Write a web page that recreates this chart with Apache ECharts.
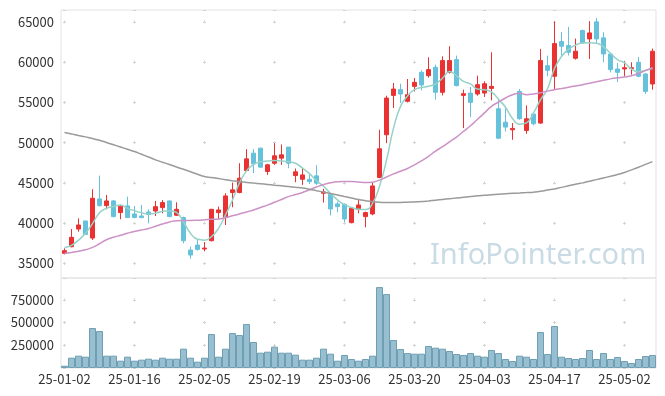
<!DOCTYPE html>
<html><head><meta charset="utf-8">
<script src="https://cdn.jsdelivr.net/npm/echarts@6/dist/echarts.min.js"></script>
<style>html,body{margin:0;padding:0;background:#fff}#c{width:665px;height:396px}</style>
</head><body><div id="c"></div>
<script>
const categories = ['25-01-02','25-01-03','25-01-06','25-01-07','25-01-08','25-01-09','25-01-10','25-01-13','25-01-14','25-01-15',
'25-01-16','25-01-17','25-01-20','25-01-21','25-01-22','25-01-23','25-01-24','25-01-31','25-02-03','25-02-04',
'25-02-05','25-02-06','25-02-07','25-02-10','25-02-11','25-02-12','25-02-13','25-02-14','25-02-17','25-02-18',
'25-02-19','25-02-20','25-02-21','25-02-24','25-02-25','25-02-26','25-02-27','25-02-28','25-03-04','25-03-05',
'25-03-06','25-03-07','25-03-10','25-03-11','25-03-12','25-03-13','25-03-14','25-03-17','25-03-18','25-03-19',
'25-03-20','25-03-21','25-03-24','25-03-25','25-03-26','25-03-27','25-03-28','25-03-31','25-04-01','25-04-02',
'25-04-03','25-04-04','25-04-07','25-04-08','25-04-09','25-04-10','25-04-11','25-04-14','25-04-15','25-04-16',
'25-04-17','25-04-18','25-04-21','25-04-22','25-04-23','25-04-24','25-04-25','25-04-28','25-04-29','25-04-30',
'25-05-02','25-05-07','25-05-08','25-05-09','25-05-12'];

const openP = [36260,37090,39280,40280,38160,43020,42190,42770,41320,42150,
41150,40900,41400,41520,41940,42770,40990,40700,36670,37290,
36800,37830,41320,40700,43810,43810,46540,48700,49320,46420,
47450,48080,49450,45920,45460,45460,45880,43720,43600,42400,
42350,40070,41730,40820,41150,45670,50980,55870,56580,55130,
56990,58730,58320,59360,56250,58730,60310,55870,56160,56040,
56160,56740,54210,52550,51600,56370,51520,53550,52430,59560,
58240,62550,62050,60480,63920,62880,65000,63010,61010,59150,
59150,59190,59980,58530,57280];
const closeP = [36590,38250,39780,38620,43100,42190,42770,40820,42110,40700,
40700,40700,41070,42060,42560,40820,41730,37830,36050,36750,
36920,41730,41650,43390,44140,45590,47990,47370,46960,47250,
48370,48490,47450,46380,46000,45170,44970,43890,41770,42060,
40530,41860,42270,41320,44630,49240,55540,56660,56040,55960,
57490,57160,59070,56250,60190,60190,57080,56080,55000,57200,
57320,56990,50560,51930,51770,52970,52970,52350,60190,58980,
62300,61970,61220,61350,62380,63630,62880,61010,59070,58730,
59310,59310,58240,56370,61350];
const lowP = [36130,37000,38950,38540,37920,42060,41730,40740,40490,40650,
40610,40610,39990,40900,41230,40740,40900,37500,35590,36590,
36510,37750,40490,39780,41980,43720,46460,46210,46920,46000,
47250,47250,46830,45090,44760,44880,44760,42560,40970,41360,
40110,39990,41230,39490,40990,45590,49940,54300,54920,55000,
56370,56490,58070,55330,55870,58570,56990,51810,53180,55830,
55670,55250,50440,51390,50360,52850,51100,52140,52350,58240,
56660,60720,60810,60310,62260,60390,62380,59980,58730,57530,
58240,58440,58110,56040,56580];
const highP = [36880,39280,40610,40280,44220,45920,43510,42890,42230,43310,
42150,42270,41730,42770,42890,42810,42600,40820,37090,38000,
37670,41770,42060,43720,45050,47450,49200,49200,49360,47370,
49940,49780,49450,46790,46790,46090,47210,44260,43720,42690,
42480,41940,43020,41440,45050,51600,55830,57410,57320,57900,
58030,58980,60600,59690,60720,61970,60810,56580,56910,58320,
57610,61220,55330,54300,52430,56660,54630,53680,61640,60810,
65040,63750,64370,62920,64040,65080,65490,63710,61140,59900,
60100,59980,60640,58650,61680];

const ma5 = [37000,37250,37900,38750,39950,41300,41850,42080,42250,41850,
41550,41300,41150,41230,41480,41560,41350,40150,38750,38000,
37900,38330,39370,41030,42890,45000,46500,47300,47620,47720,
47780,47720,47650,47450,46830,46150,45300,44600,43700,42900,
42300,41950,41730,41700,42450,44600,47800,51800,54500,55800,
56580,56850,57000,57300,58000,58850,58300,57600,57300,56650,
56580,56300,55400,54400,53000,52300,52450,53700,55300,56700,
59200,60700,61600,62100,62380,62400,62350,61900,61100,60300,
59900,59150,58800,59000,59200];
const ma20 = [36260,36380,36520,36700,37000,37450,37950,38250,38500,38750,
38980,39150,39350,39620,39900,40150,40320,40340,40340,40370,
40420,40480,40520,40700,40920,41150,41400,41650,41950,42250,
42600,42950,43300,43560,43820,44150,44500,44800,45020,45150,
45180,45180,45120,45050,45100,45350,45740,46120,46450,46800,
47250,47750,48300,48950,49500,50100,50700,51400,52100,52900,
53700,54500,55050,55550,55950,56150,55950,56050,56200,56400,
56570,56720,56880,57040,57200,57380,57560,57740,57920,58050,
58150,58300,58600,58950,59300];
const ma120 = [51270,51090,50900,50720,50530,50290,50030,49740,49460,49180,
48900,48560,48220,47870,47570,47280,46980,46690,46390,46090,
45800,45670,45540,45410,45280,45160,45070,44980,44900,44810,
44720,44640,44550,44460,44380,44220,44040,43870,43690,43500,
43310,43130,42940,42800,42680,42600,42560,42560,42580,42610,
42650,42690,42770,42860,42950,43040,43130,43220,43310,43400,
43480,43540,43600,43660,43710,43750,43800,43860,43960,44120,
44260,44450,44640,44830,45010,45200,45410,45620,45830,46050,
46300,46620,46950,47300,47650];

const volume = [25000,113500,135500,124500,439600,406600,135500,135500,80600,124500,
80600,91600,102600,91600,113500,102600,102600,212500,113500,69600,
113500,373600,124500,212500,384600,362600,483500,285700,168500,179500,
234400,168500,168500,146500,91600,91600,113500,212500,157500,80600,
142900,98900,80600,98900,135500,890100,813200,307700,208800,164800,
157500,157500,241800,223400,212500,186800,153800,142900,164800,135500,
124500,197800,164800,98900,76900,135500,124500,98900,395600,153800,
461500,124500,109900,98900,109900,197800,98900,164800,98900,120900,
76900,54900,98900,131900,142900];

const candles = categories.map((c, i) => [openP[i], closeP[i], lowP[i], highP[i]]);

const UP = '#ea3232', DOWN = '#66c1db';
const FONT = '"Noto Sans CJK KR", "Noto Sans", sans-serif';
const gridLine = '#d4d4d4';
const plain = v => String(v);

const chart = echarts.init(document.getElementById('c'), null, {renderer: 'canvas'});
chart.setOption({
  animation: false,
  backgroundColor: '#fff',
  textStyle: {fontFamily: FONT},
  grid: [
    {left: 61, right: 9, top: 10, height: 268, show: true, borderColor: '#e3e3e3', borderWidth: 1, backgroundColor: 'transparent'},
    {left: 61, right: 9, top: 278, height: 90, show: true, borderColor: '#e3e3e3', borderWidth: 1, backgroundColor: 'transparent'}
  ],
  xAxis: [
    {type: 'category', gridIndex: 0, data: categories, boundaryGap: true,
     axisLine: {show: false}, axisTick: {show: false}, axisLabel: {show: false},
     splitLine: {show: true, interval: 9, alignWithLabel: true,
       lineStyle: {color: gridLine, width: 1, type: [3, 37.277], dashOffset: 29.94}}},
    {type: 'category', gridIndex: 1, data: categories, boundaryGap: true,
     axisLine: {show: false}, axisTick: {show: false},
     axisLabel: {interval: 9, fontSize: 13, color: '#333', margin: 5, fontFamily: FONT},
     splitLine: {show: true, interval: 9, alignWithLabel: true,
       lineStyle: {color: gridLine, width: 1, type: [3, 19.727], dashOffset: 2.43}}}
  ],
  yAxis: [
    {type: 'value', gridIndex: 0, min: 33200, max: 66470, scale: true,
     axisLine: {show: false}, axisTick: {show: false},
     axisLabel: {fontSize: 13, color: '#333', margin: 7, showMinLabel: false, showMaxLabel: false, fontFamily: FONT, formatter: plain},
     splitLine: {show: true, lineStyle: {color: gridLine, width: 1, type: [3, 67], dashOffset: 68}}},
    {type: 'value', gridIndex: 1, min: 0, max: 990000, interval: 250000,
     axisLine: {show: false}, axisTick: {show: false},
     axisLabel: {fontSize: 13, color: '#333', margin: 7, showMinLabel: false, showMaxLabel: false, fontFamily: FONT, formatter: plain},
     splitLine: {show: true, lineStyle: {color: gridLine, width: 1, type: [3, 67], dashOffset: 68}}}
  ],
  graphic: [{
    type: 'text', left: 430, top: 241, silent: true, z: 0,
    style: {text: 'InfoPointer.com', font: '29px "Noto Sans", sans-serif', fill: '#c9dbe4'}
  }],
  series: [
    {type: 'candlestick', xAxisIndex: 0, yAxisIndex: 0, data: candles, barWidth: 5,
     itemStyle: {color: UP, color0: DOWN, borderColor: UP, borderColor0: DOWN, borderWidth: 1}},
    {type: 'line', xAxisIndex: 0, yAxisIndex: 0, data: ma5, smooth: true, symbol: 'none',
     lineStyle: {color: '#96d2c8', width: 1.5}},
    {type: 'line', xAxisIndex: 0, yAxisIndex: 0, data: ma20, smooth: true, symbol: 'none',
     lineStyle: {color: '#cc92c6', width: 1.5}},
    {type: 'line', xAxisIndex: 0, yAxisIndex: 0, data: ma120, smooth: true, symbol: 'none',
     lineStyle: {color: '#9a9a9a', width: 1.5}},
    {type: 'bar', xAxisIndex: 1, yAxisIndex: 1, data: volume, barCategoryGap: '0%',
     itemStyle: {color: '#98bfcf', borderColor: '#6e9fb4', borderWidth: 1}}
  ]
});
</script>
</body></html>
